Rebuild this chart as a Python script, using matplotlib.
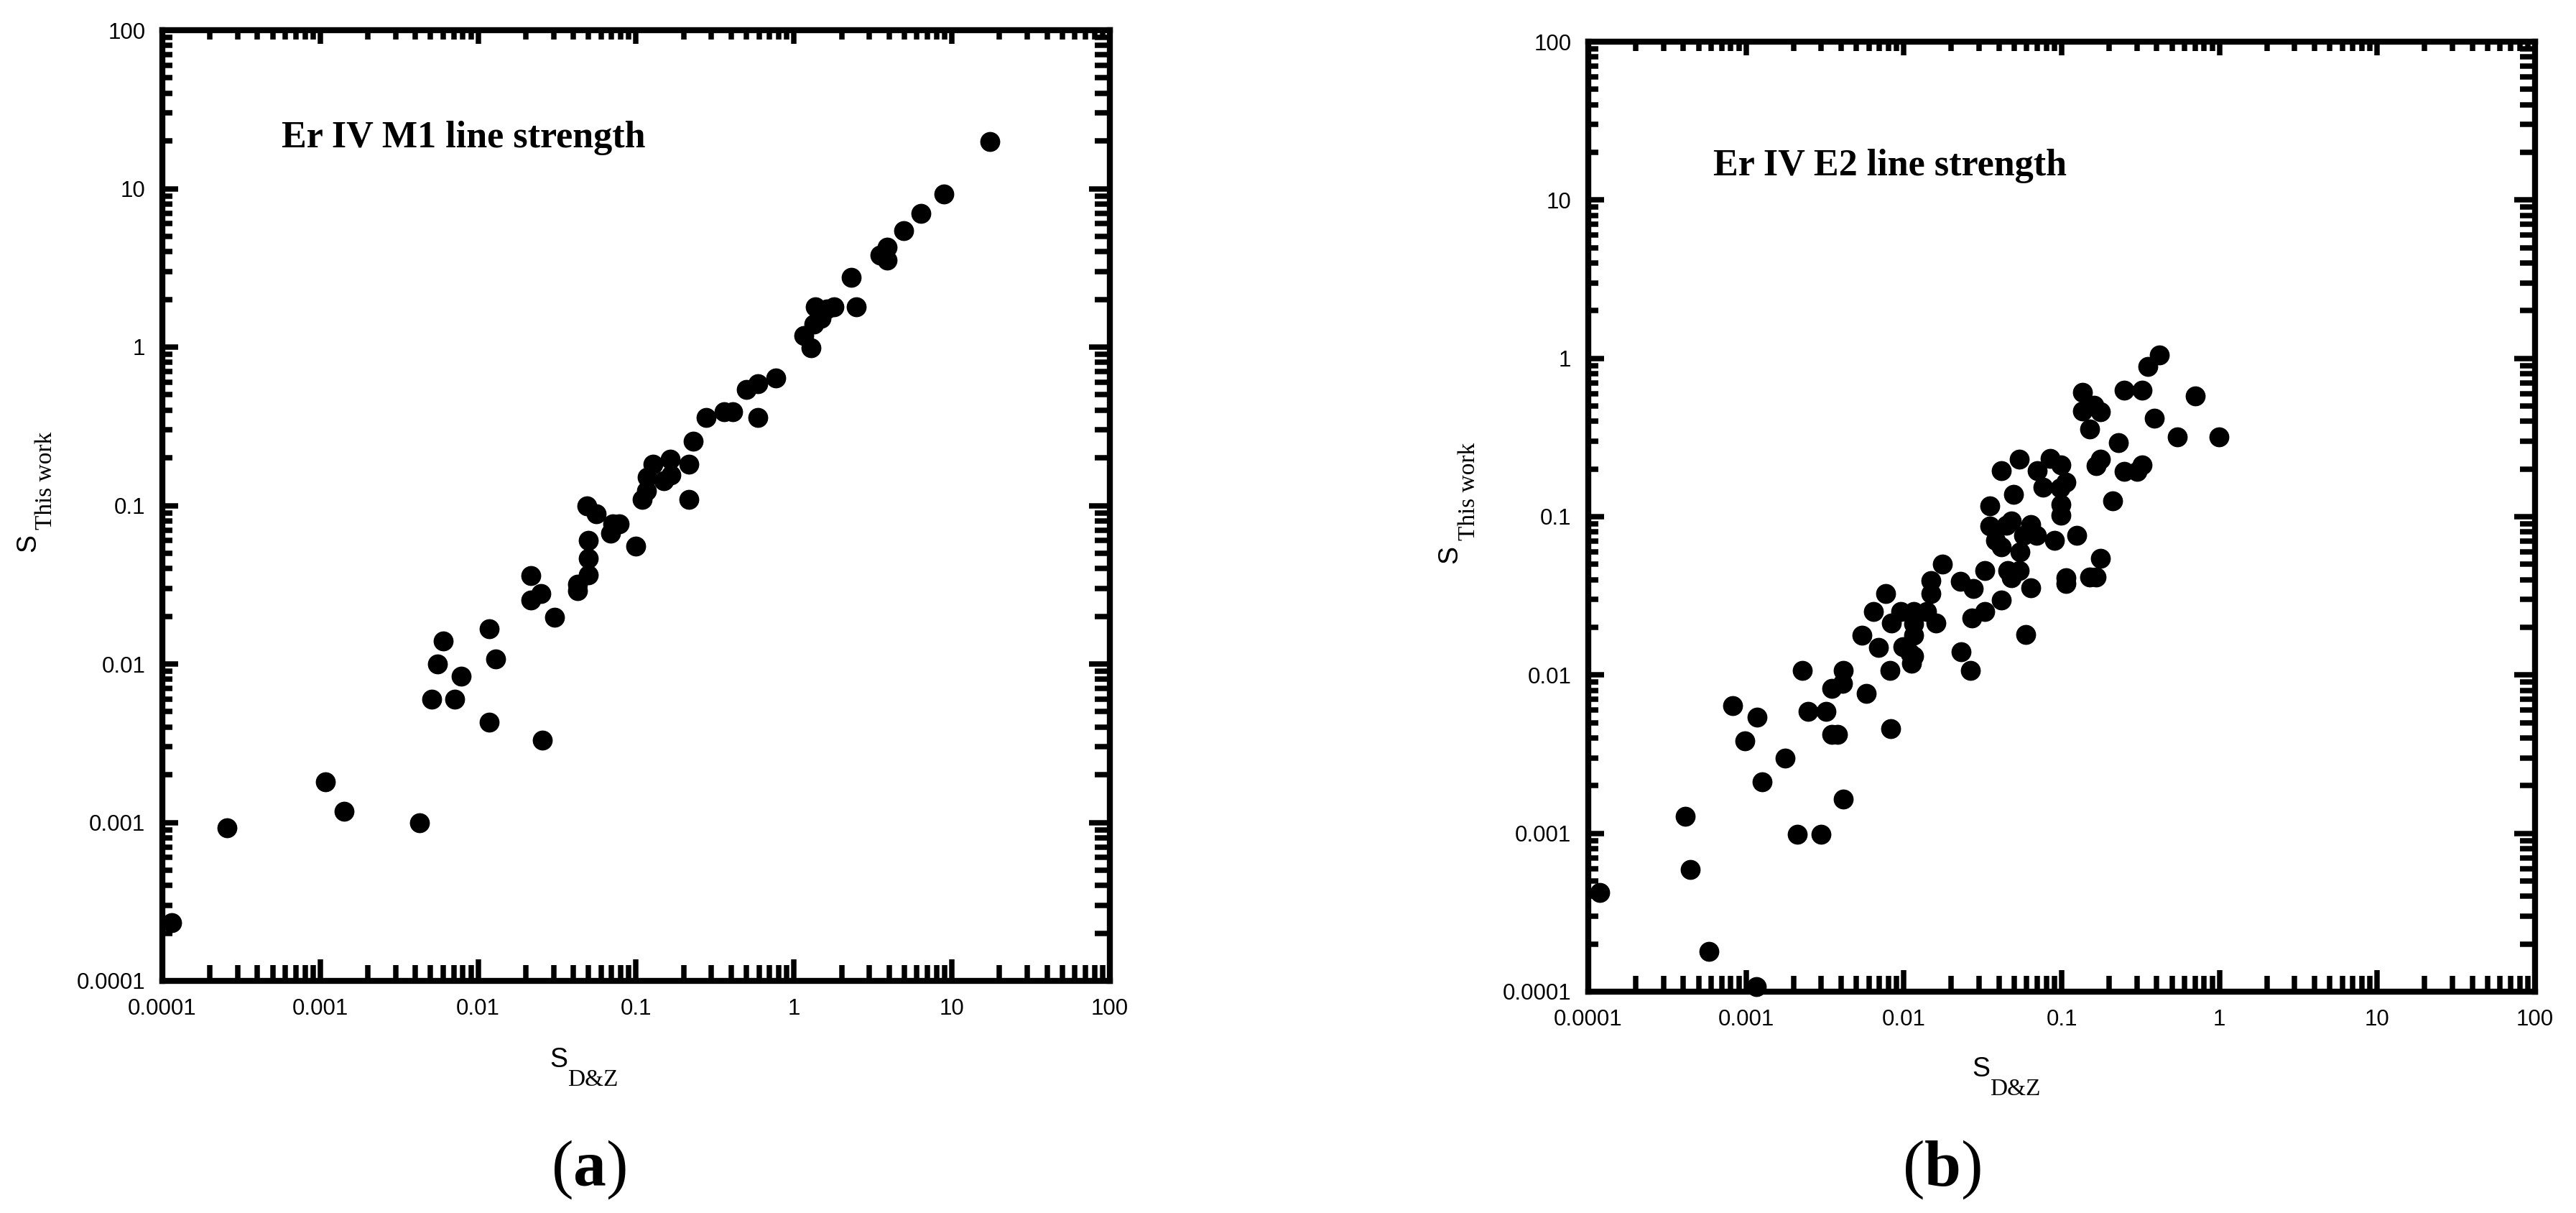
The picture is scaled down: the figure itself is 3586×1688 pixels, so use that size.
import numpy as np
import matplotlib
matplotlib.use('Agg')
import matplotlib.pyplot as plt
from matplotlib.ticker import LogLocator, NullFormatter

plt.rcParams['mathtext.fontset'] = 'custom'
plt.rcParams['mathtext.rm'] = 'Liberation Serif'
plt.rcParams['mathtext.bf'] = 'Liberation Serif:bold'

# ---- data ----
# (a) Er IV M1 line strength
m1_dz = [0.000114, 0.000256, 0.00108, 0.00141, 0.00424, 0.0051, 0.0055, 0.0060,
         0.0071, 0.0078, 0.0118, 0.0118, 0.0129, 0.0254, 0.0215, 0.0215, 0.0250,
         0.0303, 0.0424, 0.0424, 0.050, 0.050, 0.050, 0.049, 0.056, 0.069, 0.071,
         0.078, 0.100, 0.109, 0.116, 0.118, 0.128, 0.150, 0.164, 0.167, 0.215,
         0.215, 0.231, 0.279, 0.36, 0.41, 0.50, 0.59, 0.59, 0.77, 1.15, 1.28,
         1.34, 1.36, 1.49, 1.62, 1.80, 2.30, 2.48, 3.52, 3.87, 3.9, 4.95, 6.33,
         8.9, 17.4]
m1_this = [0.000233, 0.00092, 0.00180, 0.00118, 0.00099, 0.0060, 0.0100, 0.0140,
           0.0060, 0.0084, 0.0166, 0.0043, 0.0108, 0.0033, 0.0360, 0.0253, 0.0279,
           0.0197, 0.0318, 0.0290, 0.0365, 0.0464, 0.0603, 0.0990, 0.0890, 0.0668,
           0.0766, 0.0766, 0.0555, 0.109, 0.124, 0.151, 0.182, 0.143, 0.196, 0.156,
           0.182, 0.109, 0.255, 0.36, 0.39, 0.39, 0.54, 0.59, 0.36, 0.64, 1.18,
           0.99, 1.39, 1.80, 1.52, 1.74, 1.80, 2.75, 1.80, 3.82, 4.27, 3.53, 5.41,
           7.0, 9.2, 19.8]

# (b) Er IV E2 line strength
e2_dz = [0.000118, 0.00041, 0.000445, 0.00058, 0.00116, 0.00082, 0.00098, 0.00117,
         0.00127, 0.00176, 0.00211, 0.00297, 0.00228, 0.00248, 0.00322, 0.00350,
         0.00350, 0.00380, 0.00415, 0.00410, 0.00415, 0.00580, 0.00540, 0.00640,
         0.00690, 0.00770, 0.00820, 0.00825, 0.00830, 0.00960, 0.01150, 0.00990,
         0.01100, 0.01120, 0.01150, 0.01160, 0.01150, 0.01390, 0.01480, 0.01480,
         0.01600, 0.01760, 0.02270, 0.02300, 0.02640, 0.02700, 0.02750, 0.03250,
         0.03250, 0.03500, 0.03500, 0.03800, 0.04150, 0.04150, 0.04150, 0.04450,
         0.04800, 0.04550, 0.04800, 0.04950, 0.05400, 0.05450, 0.05400, 0.05750,
         0.05900, 0.06400, 0.06400, 0.06950, 0.07000, 0.07600, 0.08500, 0.09000,
         0.09900, 0.09800, 0.09900, 0.09900, 0.10700, 0.10700, 0.10700, 0.12400,
         0.13600, 0.13600, 0.15000, 0.15000, 0.16500, 0.16000, 0.17600, 0.16500,
         0.17600, 0.17600, 0.21000, 0.23000, 0.25000, 0.25000, 0.30000, 0.32500,
         0.32500, 0.35000, 0.38500, 0.41700, 0.54000, 0.70000, 0.99000]
e2_this = [0.000423, 0.00128, 0.000590, 0.000180, 0.000108, 0.00640, 0.00385,
           0.00540, 0.00212, 0.00298, 0.00099, 0.00099, 0.0107, 0.00590, 0.00590,
           0.00825, 0.00420, 0.00420, 0.0107, 0.00885, 0.00165, 0.00765, 0.0178,
           0.0251, 0.0150, 0.0326, 0.0107, 0.00460, 0.0213, 0.0251, 0.0251, 0.0151,
           0.0137, 0.0118, 0.0131, 0.0178, 0.0211, 0.0251, 0.0327, 0.0395, 0.0213,
           0.0500, 0.0392, 0.0140, 0.0107, 0.0230, 0.0352, 0.0252, 0.0455, 0.0875,
           0.1170, 0.0708, 0.0642, 0.0296, 0.1950, 0.0880, 0.0940, 0.0458, 0.0411,
           0.1380, 0.2300, 0.0600, 0.0455, 0.0766, 0.0180, 0.0895, 0.0355, 0.0766,
           0.1950, 0.1540, 0.2320, 0.0705, 0.2120, 0.1520, 0.1200, 0.1020, 0.1660,
           0.0411, 0.0380, 0.0766, 0.6100, 0.4650, 0.3560, 0.0415, 0.0415, 0.5050,
           0.4600, 0.2100, 0.2300, 0.0545, 0.1260, 0.2940, 0.1940, 0.6320, 0.1930,
           0.2120, 0.6320, 0.8850, 0.4200, 1.0500, 0.3200, 0.5800, 0.3200]

tick_vals = [1e-4, 1e-3, 1e-2, 1e-1, 1, 10, 100]
tick_labels = ['0.0001', '0.001', '0.01', '0.1', '1', '10', '100']

W, H, DPI = 3586, 1688, 100
fig = plt.figure(figsize=(W / DPI, H / DPI), dpi=DPI)


def fx(x):
    return x / W


def fy(y):
    return 1 - y / H


SANS = 'Liberation Sans'
SERIF = 'Liberation Serif'
LW = 6


def log_ticks(axis):
    axis.set_major_locator(LogLocator(base=10, numticks=20))
    axis.set_minor_locator(LogLocator(base=10, subs=np.arange(2, 10), numticks=100))
    axis.set_minor_formatter(NullFormatter())


def panel(rect, xs, ys, title, title_pos):
    ax = fig.add_axes(rect)
    ax.plot(xs, ys, 'o', color='black', ms=19, clip_on=False, zorder=5)
    ax.set_xscale('log')
    ax.set_yscale('log')
    ax.set_xlim(1e-4, 100)
    ax.set_ylim(1e-4, 100)
    log_ticks(ax.xaxis)
    log_ticks(ax.yaxis)
    ax.set_xticks(tick_vals, tick_labels)
    ax.set_yticks(tick_vals, tick_labels)
    for s in ax.spines.values():
        s.set_linewidth(LW)
    ax.tick_params(which='both', direction='in', width=5.4, top=False, right=False,
                   labelsize=22.5)
    ax.tick_params(axis='x', which='major', length=21.6, pad=17)
    ax.tick_params(axis='x', which='minor', length=16)
    ax.tick_params(axis='y', which='major', length=16, pad=17)
    ax.tick_params(axis='y', which='minor', length=10)
    for lab in ax.get_xticklabels() + ax.get_yticklabels():
        lab.set_fontfamily(SANS)

    # top ticks (shorter)
    axt = ax.twiny()
    axt.set_xscale('log')
    axt.set_xlim(1e-4, 100)
    log_ticks(axt.xaxis)
    axt.tick_params(axis='x', which='both', direction='in', width=5.4,
                    labeltop=False, top=True, bottom=False)
    axt.tick_params(axis='x', which='major', length=14)
    axt.tick_params(axis='x', which='minor', length=9)
    # right ticks (longer)
    axr = ax.twinx()
    axr.set_yscale('log')
    axr.set_ylim(1e-4, 100)
    log_ticks(axr.yaxis)
    axr.tick_params(axis='y', which='both', direction='in', width=5.4,
                    labelright=False, right=True, left=False)
    axr.tick_params(axis='y', which='major', length=21)
    axr.tick_params(axis='y', which='minor', length=15)
    for a in (axt, axr):
        for s in a.spines.values():
            s.set_visible(False)

    fig.text(fx(title_pos[0]), fy(title_pos[1]), title, family=SERIF,
             fontweight='bold', fontsize=37.5, ha='left', va='baseline')
    return ax


panel([fx(226), fy(1365), 1319 / W, 1323 / H], m1_dz, m1_this,
      'Er IV M1 line strength', (392, 205))
panel([fx(2211), fy(1380), 1318 / W, 1322 / H], e2_dz, e2_this,
      'Er IV E2 line strength', (2385, 244))

# axis labels: sans "S" with serif subscript
for sx, sy, bx, by in [(778, 1475, 790, 1503), (2758, 1488, 2770, 1516)]:
    fig.text(fx(sx), fy(sy), 'S', family=SANS, fontsize=27, ha='center', va='center')
    fig.text(fx(bx), fy(by), 'D&Z', family=SERIF, fontsize=24, ha='left', va='center')

for sx, sy, bx, by in [(39, 755, 64, 737), (2018, 772, 2045, 752)]:
    fig.text(fx(sx), fy(sy), 'S', family=SANS, fontsize=27, rotation=90,
             ha='center', va='center')
    fig.text(fx(bx), fy(by), 'This work', family=SERIF, fontsize=24, rotation=90,
             ha='center', va='bottom')

# panel letters
fig.text(fx(819), fy(1628), r'($\mathbf{a}$)', family=SERIF, fontsize=66,
         ha='center', va='center')
fig.text(fx(2703), fy(1628), r'($\mathbf{b}$)', family=SERIF, fontsize=66,
         ha='center', va='center')

fig.savefig('out.png', dpi=DPI)
